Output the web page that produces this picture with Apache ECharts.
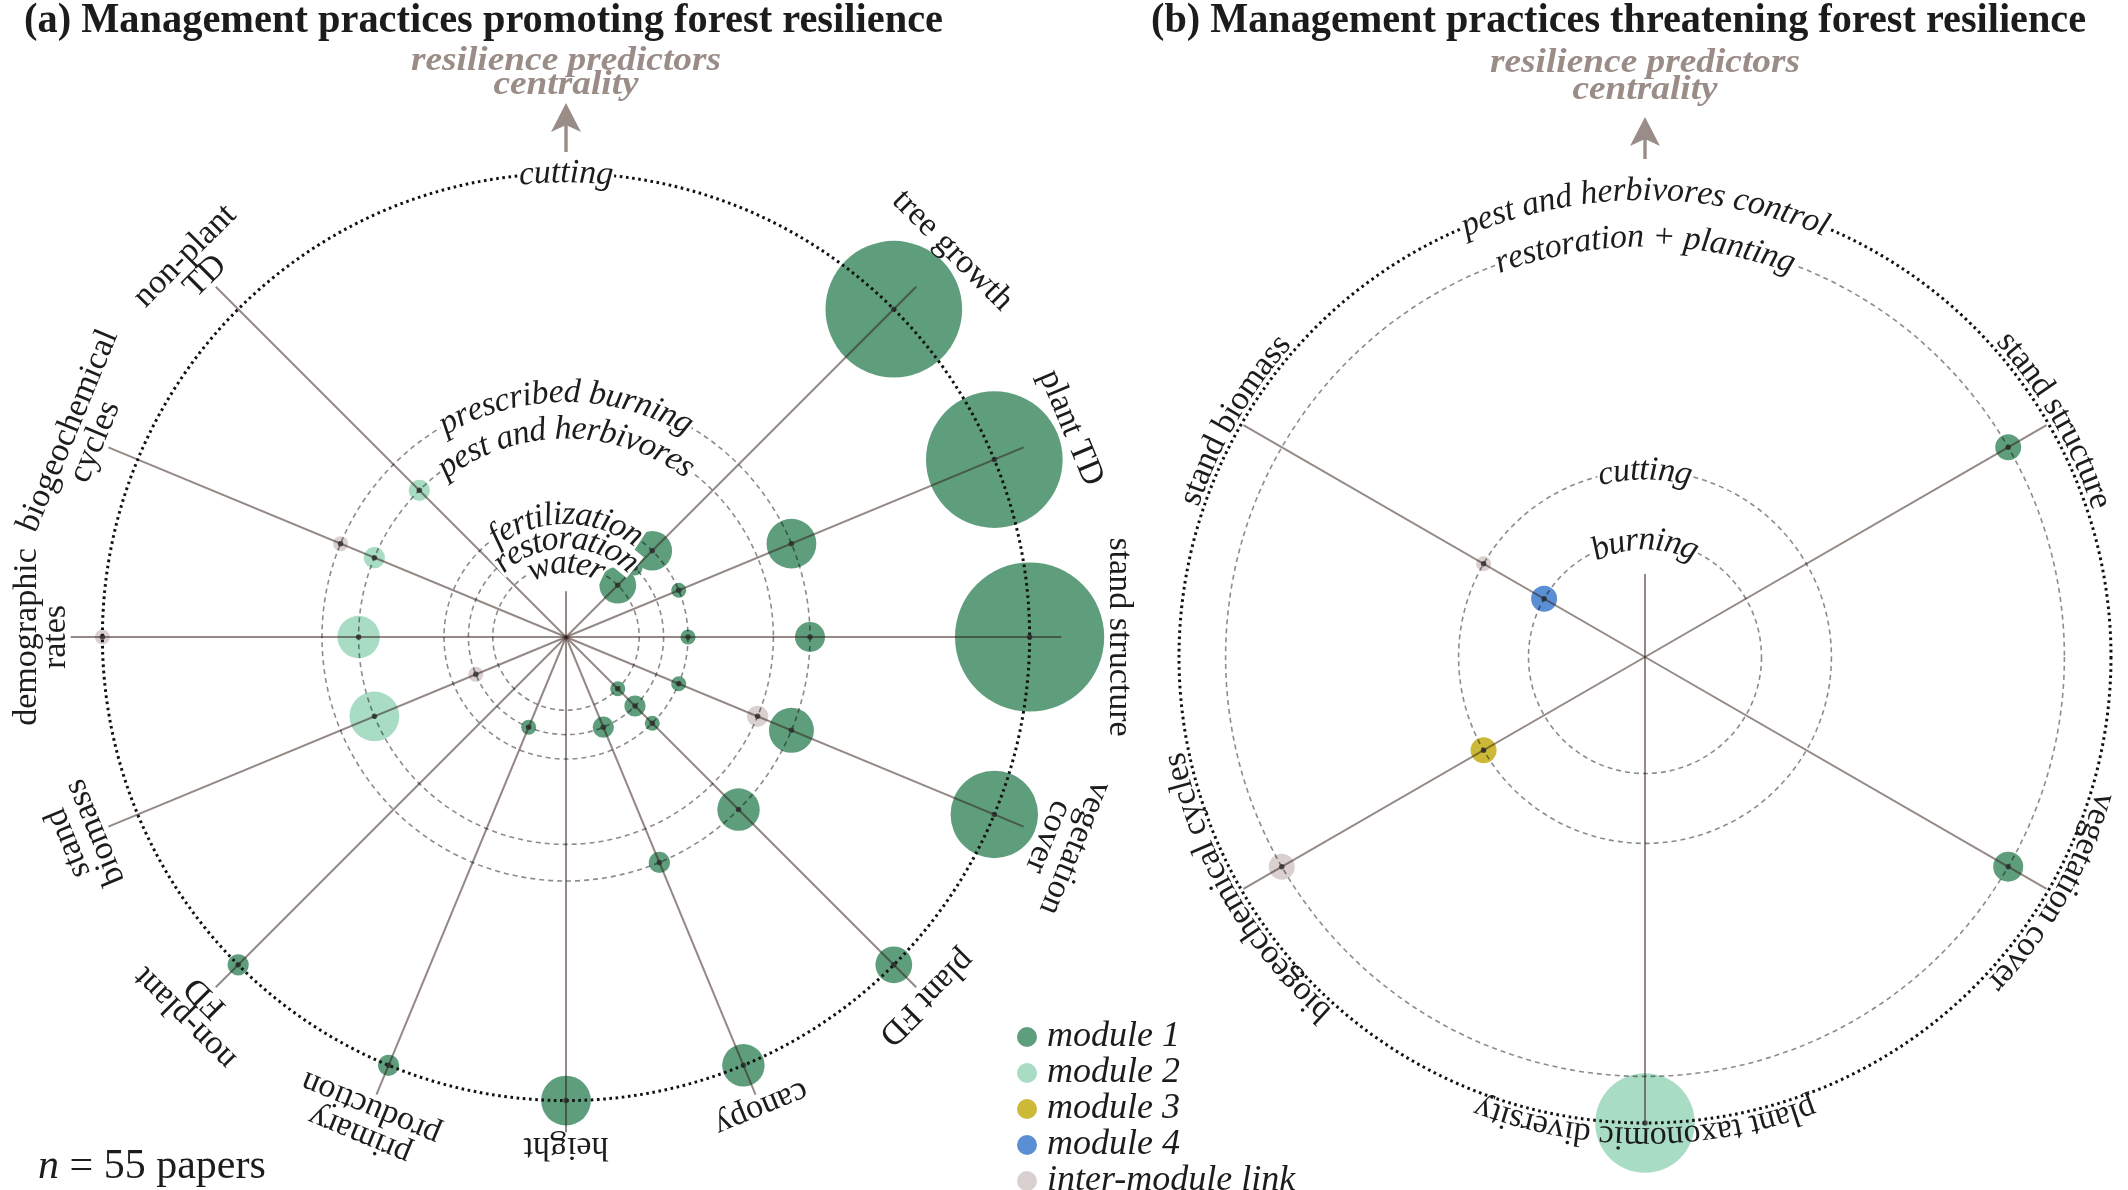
<!DOCTYPE html>
<html><head><meta charset="utf-8">
<script src="https://cdn.jsdelivr.net/npm/echarts@6.0.0/dist/echarts.min.js"></script>
<style>html,body{margin:0;padding:0;background:#fff}#c{width:2128px;height:1190px}</style>
</head><body><div id="c"></div>
<script>
// ---------------- data ----------------
// panel (a): management practices promoting resilience (rings) and resilience predictors (spokes)
const practicesA = ['water', 'restoration', 'fertilization', 'pest and herbivores', 'prescribed burning', 'cutting'];
const practiceLevelA = [3, 4, 5, 8.5, 10, 19];
const predictorsA = ['', '', 'tree growth', 'plant TD', 'stand structure', 'vegetation cover', 'plant FD', 'canopy',
  'height', 'primary production', 'non-plant FD', 'stand biomass', 'demographic rates', 'biogeochemical cycles', 'non-plant TD', ''];
const predictorLabelsA = ['', '', 'tree growth', 'plant TD', 'stand structure', 'vegetation\ncover', 'plant FD', 'canopy',
  'height', 'primary\nproduction', 'non-plant\nFD', 'stand\nbiomass', 'demographic\nrates', 'biogeochemical\ncycles', 'non-plant\nTD', ''];
// [predictor, practice, module (0 = inter-module link), weight]
const linksA = [
  ['tree growth', 'cutting', 1, 83],
  ['tree growth', 'restoration', 1, 1],
  ['tree growth', 'fertilization', 1, 7],
  ['tree growth', 'water', 1, 6],
  ['plant TD', 'cutting', 1, 83],
  ['plant TD', 'prescribed burning', 1, 11],
  ['plant TD', 'fertilization', 1, 1],
  ['stand structure', 'cutting', 1, 99],
  ['stand structure', 'prescribed burning', 1, 4],
  ['stand structure', 'fertilization', 1, 1],
  ['vegetation cover', 'cutting', 1, 34],
  ['vegetation cover', 'prescribed burning', 1, 9],
  ['vegetation cover', 'pest and herbivores', 0, 2],
  ['vegetation cover', 'fertilization', 1, 1],
  ['plant FD', 'cutting', 1, 6],
  ['plant FD', 'prescribed burning', 1, 8],
  ['plant FD', 'fertilization', 1, 1],
  ['plant FD', 'restoration', 1, 2],
  ['plant FD', 'water', 1, 1],
  ['canopy', 'cutting', 1, 8],
  ['canopy', 'prescribed burning', 1, 2],
  ['canopy', 'restoration', 1, 2],
  ['height', 'cutting', 1, 11],
  ['primary production', 'cutting', 1, 2],
  ['primary production', 'restoration', 1, 1],
  ['non-plant FD', 'cutting', 1, 2],
  ['stand biomass', 'pest and herbivores', 2, 11],
  ['stand biomass', 'restoration', 0, 1],
  ['demographic rates', 'cutting', 0, 1],
  ['demographic rates', 'pest and herbivores', 2, 8],
  ['biogeochemical cycles', 'prescribed burning', 0, 1],
  ['biogeochemical cycles', 'pest and herbivores', 2, 2],
  ['non-plant TD', 'pest and herbivores', 2, 2]
];
// panel (b): management practices threatening resilience
const practicesB = ['burning', 'cutting', 'restoration + planting', 'pest and herbivores control'];
const practiceLevelB = [5, 8, 18, 20];
const predictorsB = ['', 'stand structure', 'vegetation cover', 'plant taxonomic diversity', 'biogeochemical cycles', 'stand biomass'];
const linksB = [
  ['stand structure', 'restoration + planting', 1, 3],
  ['vegetation cover', 'restoration + planting', 1, 4],
  ['plant taxonomic diversity', 'pest and herbivores control', 2, 44],
  ['biogeochemical cycles', 'restoration + planting', 0, 3],
  ['biogeochemical cycles', 'cutting', 3, 3],
  ['stand biomass', 'burning', 4, 3],
  ['stand biomass', 'cutting', 0, 1]
];
const moduleNames = ['inter-module link', 'module 1', 'module 2', 'module 3', 'module 4'];
const legendOrder = ['module 1', 'module 2', 'module 3', 'module 4', 'inter-module link'];
const titleA = '(a) Management practices promoting forest resilience';
const titleB = '(b) Management practices threatening forest resilience';
const axisNote = ['resilience predictors', 'centrality'];
const sampleNote = ' = 55 papers';

// ---------------- style / layout ----------------
const FONT = '"Liberation Serif", "DejaVu Serif", serif';
const INK = '#1c1c1c';
const NOTE = '#9a8c87';
const SPOKE = 'rgba(50,28,22,0.52)';
const DASH = 'rgba(0,0,0,0.45)';
const moduleColors = ['#d9d0cf', '#5f9e7c', '#a9dcc4', '#ccb938', '#5b8fd3'];
const LA = {cx: 566, cy: 637, unit: 24.4, max: 22, interval: 0.5, spokeLen: 20.3, stub: 1.87};
const LB = {cx: 1645, cy: 657, unit: 23.3, max: 24, interval: 1, spokeLen: 19.9, stub: 3.56};
const BASE = 15; // bubble diameter for weight 1
const sizeOf = w => BASE * Math.sqrt(w);

const chart = echarts.init(document.getElementById('c'), null, {renderer: 'canvas'});

function ringColors(levels, L, color) {
  const out = [];
  const n = Math.round(L.max / L.interval);
  for (let k = 0; k <= n; k++) {
    const v = k * L.interval;
    out.push(levels.some(l => Math.abs(l - v) < 1e-6) ? color : 'rgba(0,0,0,0)');
  }
  return out;
}
function slotAngle(list, name) { return list.indexOf(name) * 360 / list.length; }

const polar = [], angleAxis = [], radiusAxis = [], series = [];
function addPanel(L, practices, levels, predictors, links) {
  const outer = Math.max.apply(null, levels);
  const inner = levels.filter(l => l !== outer);
  const p0 = polar.length;
  [0, 1].forEach(k => {
    polar.push({center: [L.cx, L.cy], radius: L.unit * L.max});
    angleAxis.push({polarIndex: p0 + k, type: 'value', min: 0, max: 360, startAngle: 90, clockwise: true,
      axisLine: {show: false}, axisTick: {show: false}, axisLabel: {show: false}, splitLine: {show: false}});
    radiusAxis.push({polarIndex: p0 + k, type: 'value', min: 0, max: L.max, interval: L.interval, z: 5,
      axisLine: {show: false}, axisTick: {show: false}, axisLabel: {show: false}, splitArea: {show: false},
      splitLine: {show: true, lineStyle: k === 0
        ? {color: ringColors(inner, L, DASH), width: 1.6, type: [5, 4]}
        : {color: ringColors([outer], L, '#111'), width: 3, type: [2.6, 3.6]}}});
  });
  predictors.forEach((p, i) => {
    if (!p) return;
    const a = i * 360 / predictors.length;
    series.push({type: 'line', coordinateSystem: 'polar', polarIndex: p0, data: [[0, a], [L.spokeLen, a]],
      symbol: 'none', silent: true, z: 4, lineStyle: {color: SPOKE, width: 2}});
  });
  series.push({type: 'line', coordinateSystem: 'polar', polarIndex: p0, data: [[0, 0], [L.stub, 0]],
    symbol: 'none', silent: true, z: 4, lineStyle: {color: SPOKE, width: 2}});
  [1, 2, 3, 4, 0].forEach(m => {
    const data = links.filter(l => l[2] === m)
      .map(l => [levels[practices.indexOf(l[1])], slotAngle(predictors, l[0]), l[3]]);
    if (!data.length) return;
    series.push({type: 'scatter', name: moduleNames[m], coordinateSystem: 'polar', polarIndex: p0, data,
      symbolSize: v => sizeOf(v[2]), itemStyle: {color: moduleColors[m], opacity: 1}, z: 2, silent: true});
  });
  series.push({type: 'scatter', coordinateSystem: 'polar', polarIndex: p0,
    data: links.map(l => [levels[practices.indexOf(l[1])], slotAngle(predictors, l[0])]),
    symbolSize: 5.5, itemStyle: {color: '#2a2a2a'}, z: 6, silent: true});
  return p0;
}
const pA = addPanel(LA, practicesA, practiceLevelA, predictorsA, linksA);
const pB = addPanel(LB, practicesB, practiceLevelB, predictorsB, linksB);

chart.setOption({
  animation: false,
  backgroundColor: '#fff',
  polar, angleAxis, radiusAxis, series,
  legend: {data: legendOrder, orient: 'vertical', left: 1017, top: 1019, height: 400, padding: 0,
    itemWidth: 30, itemHeight: 20, itemGap: 0, icon: 'circle', selectedMode: false,
    textStyle: {fontFamily: FONT, fontStyle: 'italic', fontSize: 36, color: INK}}
});

// ---------------- text layer ----------------
const ctx = document.createElement('canvas').getContext('2d');
function measure(t, font) { ctx.font = font; return ctx.measureText(t).width; }
function toPx(pIdx, L, r, a) {
  let p = null;
  try { p = chart.convertToPixel({polarIndex: pIdx}, [r, a]); } catch (e) { p = null; }
  if (!p || isNaN(p[0])) {
    const rr = r * L.unit, t = a * Math.PI / 180;
    p = [L.cx + rr * Math.sin(t), L.cy - rr * Math.cos(t)];
  }
  return p;
}
const g = [];
function txt(x, y, text, font, opts) {
  const o = Object.assign({align: 'center', vAlign: 'middle', fill: INK, rot: 0, z: 8, scaleX: 1}, opts || {});
  const el = {type: 'text', x, y, rotation: o.rot, scaleX: o.scaleX, z: o.z, silent: true,
    style: {text, font, fill: o.fill, align: o.align, textAlign: o.align, verticalAlign: o.vAlign,
      textVerticalAlign: o.vAlign}};
  if (o.lineHeight) el.style.lineHeight = o.lineHeight;
  if (o.bg) { el.style.backgroundColor = o.bg; el.style.padding = [0, 1]; }
  if (o.rich) el.style.rich = o.rich;
  g.push(el);
}
function arcText(pIdx, L, text, r, centerDeg, font, fontSize, withBg) {
  const chars = Array.from(text);
  const widths = chars.map(c => measure(c, font));
  const total = widths.reduce((s, w) => s + w, 0);
  const rPx = r * L.unit;
  let cum = -total / 2;
  chars.forEach((c, i) => {
    const s = cum + widths[i] / 2;
    cum += widths[i];
    const a = centerDeg + (s / rPx) * 180 / Math.PI;
    const p = toPx(pIdx, L, r, a);
    const rot = -a * Math.PI / 180;
    if (withBg) txt(p[0], p[1], c, font, {rot, z: 7, fill: 'rgba(0,0,0,0)', bg: '#fff', lineHeight: Math.round(fontSize * 0.78)});
    txt(p[0], p[1], c, font, {rot, z: 8});
  });
}

// titles
const titleFont = 'bold 43px ' + FONT;
txt(24, 21, titleA, titleFont, {align: 'left', scaleX: 919 / measure(titleA, titleFont)});
txt(1151, 21, titleB, titleFont, {align: 'left', scaleX: 935 / measure(titleB, titleFont)});
// axis note + arrow
const noteFont = 'italic bold 34px ' + FONT;
const noteScale = 310 / measure(axisNote[0], noteFont);
[[LA.cx, 61, 85, 103, 152], [LB.cx, 63, 90, 117, 159]].forEach(n => {
  txt(n[0], n[1], axisNote[0], noteFont, {fill: NOTE, scaleX: noteScale});
  txt(n[0], n[2], axisNote[1], noteFont, {fill: NOTE, scaleX: noteScale});
  g.push({type: 'line', z: 8, silent: true, shape: {x1: n[0], y1: n[4], x2: n[0], y2: n[3] + 20},
    style: {stroke: NOTE, lineWidth: 3.4}});
  g.push({type: 'polygon', z: 8, silent: true,
    shape: {points: [[n[0], n[3]], [n[0] + 15, n[3] + 29], [n[0], n[3] + 22], [n[0] - 15, n[3] + 29]]},
    style: {fill: NOTE}});
});
// sample size
const nFont = '42px ' + FONT;
txt(38, 1167, '{i|n}' + sampleNote, nFont, {align: 'left', rich: {i: {font: 'italic 42px ' + FONT, fill: INK}}});

// ring labels (practices)
const ringFont = 'italic 34px ' + FONT;
practicesA.forEach((p, i) => arcText(pA, LA, p, practiceLevelA[i], 0, ringFont, 34, true));
practicesB.forEach((p, i) => arcText(pB, LB, p, practiceLevelB[i], 0, ringFont, 34, true));

// spoke labels panel (a): straight, tangential, pushed beyond the outermost bubble
const spokeFont = '34px ' + FONT;
predictorsA.forEach((p, i) => {
  if (!p) return;
  const a = i * 360 / predictorsA.length;
  let rIn = LA.spokeLen;
  linksA.filter(l => l[0] === p).forEach(l => {
    const edge = practiceLevelA[practicesA.indexOf(l[1])] + sizeOf(l[3]) / 2 / LA.unit;
    rIn = Math.max(rIn, edge);
  });
  const pt = toPx(pA, LA, rIn, a);
  txt(pt[0], pt[1], predictorLabelsA[i], spokeFont, {rot: -a * Math.PI / 180, vAlign: 'bottom', lineHeight: 29});
});
// spoke labels panel (b): curved along the outer ring
predictorsB.forEach((p, i) => {
  if (!p) return;
  arcText(pB, LB, p, 480 / LB.unit, i * 360 / predictorsB.length, spokeFont, 34, false);
});

chart.setOption({graphic: {elements: g}});
</script></body></html>
